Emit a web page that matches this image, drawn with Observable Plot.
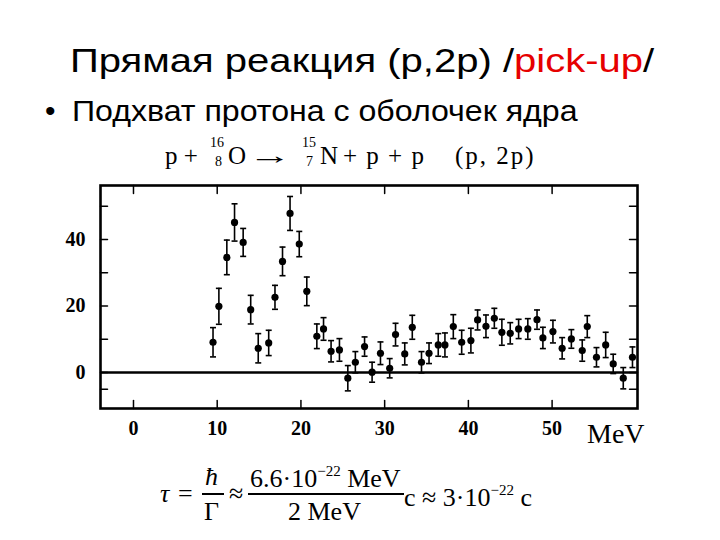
<!DOCTYPE html>
<html><head><meta charset="utf-8">
<script src="https://cdn.jsdelivr.net/npm/d3@7"></script>
<script src="https://cdn.jsdelivr.net/npm/@observablehq/plot@0.6"></script>
<style>
body{margin:0;background:#fff;}
#page{position:relative;width:720px;height:540px;overflow:hidden;background:#fff;color:#000;}
.t{position:absolute;white-space:nowrap;line-height:1;}
.sans{font-family:"Liberation Sans",Arial,sans-serif;}
.serif{font-family:"Liberation Serif","Times New Roman",serif;}
.sup{font-size:15px;vertical-align:11px;}
#chart{position:absolute;left:0;top:170px;}
</style>
</head><body>
<div id="page">
  <div class="t sans" style="left:70px;top:44px;font-size:33px;transform:scaleX(1.213);transform-origin:0 0;">Прямая реакция (p,2p) /<span style="color:#e60000">pick-up</span>/</div>
  <div class="t sans" style="left:45px;top:96px;font-size:30px;">•</div>
  <div class="t sans" style="left:72px;top:96px;font-size:30px;transform:scaleX(1.07);transform-origin:0 0;">Подхват протона с оболочек ядра</div>
  <!-- reaction formula -->
  <div class="t serif" style="left:165px;top:143px;font-size:25px;">p +</div>
  <div class="t serif" style="left:210px;top:136px;font-size:14px;">16</div>
  <div class="t serif" style="left:215px;top:155px;font-size:14px;">8</div>
  <div class="t serif" style="left:228px;top:143px;font-size:25px;">O</div>
  <div class="t serif" style="left:248px;top:143px;font-size:25px;transform:scaleX(1.75);transform-origin:0 0;">→</div>
  <div class="t serif" style="left:302px;top:136px;font-size:14px;">15</div>
  <div class="t serif" style="left:306px;top:155px;font-size:14px;">7</div>
  <div class="t serif" style="left:320px;top:143px;font-size:25px;">N</div>
  <div class="t serif" style="left:343px;top:143px;font-size:25px;letter-spacing:1.5px;">+ p + p</div>
  <div class="t serif" style="left:455px;top:143px;font-size:25px;letter-spacing:2px;">(p, 2p)</div>
  <div id="chart"></div>
  <div class="t serif" style="left:587px;top:420px;font-size:28px;">MeV</div>
  <!-- lifetime formula -->
  <div class="t serif" style="left:160px;top:481px;font-size:26px;font-style:italic;">τ</div>
  <div class="t serif" style="left:178px;top:481px;font-size:26px;">=</div>
  <div class="t serif" style="left:205px;top:464px;font-size:26px;font-style:italic;">ħ</div>
  <div style="position:absolute;left:202px;top:493px;width:22px;height:1.5px;background:#000;"></div>
  <div class="t serif" style="left:204px;top:499px;font-size:26px;">Γ</div>
  <div class="t serif" style="left:229px;top:481px;font-size:26px;">≈</div>
  <div class="t serif" style="left:250px;top:464px;font-size:26px;">6.6·10<span class="sup">−22</span> MeV</div>
  <div style="position:absolute;left:248px;top:493px;width:156px;height:1.5px;background:#000;"></div>
  <div class="t serif" style="left:288px;top:499px;font-size:26px;">2 MeV</div>
  <div class="t serif" style="left:404px;top:483px;font-size:26px;">c ≈ 3·10<span class="sup">−22</span> c</div>
</div>
<script>
const energy = [9.5,10.2,11.15,12.07,13.1,14.0,14.9,16.15,16.9,17.8,18.7,19.8,20.7,21.9,22.7,23.6,24.6,25.6,26.5,27.6,28.5,29.5,30.6,31.3,32.4,33.3,34.4,35.3,36.4,37.2,38.2,39.2,40.3,41.1,42.1,43.1,44.0,45.0,46.0,47.1,48.2,48.9,50.1,51.2,52.3,53.6,54.2,55.3,56.4,57.3,58.5,59.6];
const counts = [9.1,19.9,34.6,45.1,39.1,18.9,7.3,8.9,22.6,33.4,47.8,38.6,24.4,10.9,13.1,6.4,6.8,-1.7,3.1,7.8,0.1,5.8,1.3,11.4,5.6,13.6,3.1,5.8,8.3,8.3,13.8,9.1,9.6,15.8,13.9,16.3,12.1,11.8,13.1,13.1,15.9,10.4,12.3,7.3,10.1,6.6,13.8,4.6,8.3,2.6,-1.7,4.6];
const errors = [4.4,5.4,5.2,5.6,4.2,4.3,4.4,3.8,3.6,4.3,5.1,3.8,4.3,3.7,3.4,3.2,3.4,3.8,3.2,2.9,3.0,3.4,2.9,3.4,3.3,3.6,3.2,3.1,3.4,3.6,3.6,3.6,3.7,3.0,3.4,3.0,3.9,3.2,2.9,3.1,2.9,3.2,3.4,3.2,2.8,3.2,3.3,2.9,3.8,2.9,3.2,3.1];
const xTicks = [0,10,20,30,40,50];
const yTicks = [-5,0,10,20,30,40,50];
const yTickLabels = [0,20,40];

const data = energy.map((e,i)=>({x:e, y:counts[i], lo:counts[i]-errors[i], hi:counts[i]+errors[i]}));
const tickShape = {draw(ctx, l){ ctx.moveTo(0,0); ctx.lineTo(0,-l); }};
const capSymbol = {draw(ctx){ ctx.moveTo(-3,0); ctx.lineTo(3,0); }};

const chart = Plot.plot({
  width: 720, height: 290,
  marginLeft: 100, marginRight: 83, marginTop: 15, marginBottom: 52,
  x: {domain: [-3.94, 60.2], axis: null},
  y: {domain: [-10.8, 56.2], axis: null},
  style: {fontFamily: '"Liberation Serif", serif', background: "transparent", color: "#000"},
  marks: [
    Plot.frame({stroke: "#000", strokeWidth: 2.6}),
    Plot.ruleY([0], {stroke: "#000", strokeWidth: 2.6}),
    Plot.vector(xTicks, {x: d=>d, frameAnchor: "top", length: 8, rotate: 180, anchor: "start", shape: tickShape, stroke: "#000", strokeWidth: 1.5}),
    Plot.vector(xTicks, {x: d=>d, frameAnchor: "bottom", length: 8, rotate: 0, anchor: "start", shape: tickShape, stroke: "#000", strokeWidth: 1.5}),
    Plot.vector(yTicks, {y: d=>d, frameAnchor: "left", length: 7, rotate: 90, anchor: "start", shape: tickShape, stroke: "#000", strokeWidth: 1.5}),
    Plot.vector(yTicks, {y: d=>d, frameAnchor: "right", length: 8, rotate: -90, anchor: "start", shape: tickShape, stroke: "#000", strokeWidth: 1.5}),
    Plot.axisX(xTicks, {anchor: "bottom", tickSize: 0, tickPadding: 12, fontSize: 20, fontWeight: "bold", label: null}),
    Plot.axisY(yTickLabels, {anchor: "left", tickSize: 0, tickPadding: 15, fontSize: 20, fontWeight: "bold", label: null}),
    Plot.ruleX(data, {x: "x", y1: "lo", y2: "hi", stroke: "#000", strokeWidth: 1.6}),
    Plot.dot(data, {x: "x", y: "lo", symbol: capSymbol, stroke: "#000", strokeWidth: 1.6}),
    Plot.dot(data, {x: "x", y: "hi", symbol: capSymbol, stroke: "#000", strokeWidth: 1.6}),
    Plot.dot(data, {x: "x", y: "y", r: 3.6, fill: "#000"})
  ]
});
document.getElementById("chart").appendChild(chart);
</script>
</body></html>
